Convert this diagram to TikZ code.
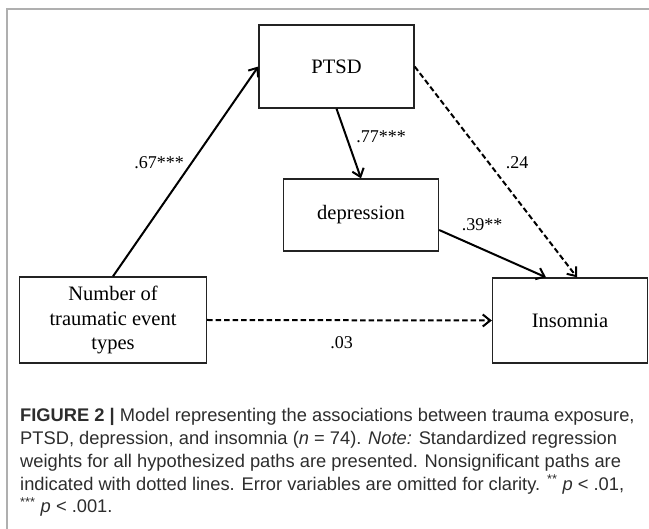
\documentclass[tikz,border=0pt]{standalone}
\usepackage{fontspec}
\setmainfont{Liberation Serif}
\newfontfamily\capfont{Liberation Sans}
\usepackage{xcolor}
\usepackage{tikz}
\usetikzlibrary{arrows.meta, positioning, calc}
\definecolor{framegray}{RGB}{175, 175, 175}
\definecolor{boxborder}{RGB}{35, 35, 35}
\definecolor{captext}{RGB}{45, 45, 45}

\begin{document}
\begin{tikzpicture}[
    x=1pt, y=-1pt,
    >={Straight Barb[length=7.5pt, width=12pt]},
    pathsolid/.style={->, line width=2pt, draw=black},
    pathdash/.style={->, line width=2pt, draw=black, dash pattern=on 5.5pt off 3pt},
    varbox/.style={rectangle, draw=boxborder, line width=1.3pt, fill=white,
                   minimum width=155pt, align=center, inner sep=0pt,
                   font=\fontsize{20.5}{24.5}\selectfont},
    weight/.style={font=\fontsize{18}{20}\selectfont, inner sep=1pt},
]
\useasboundingbox (0,0) rectangle (649,529);

% ============================================================
% FRAME
% ============================================================
\draw[framegray, line width=1.4pt] (649,9) -- (7,9) -- (7,529);

% ============================================================
% NODES
% ============================================================
\node[varbox, minimum height=83pt] (ptsd) at (336.5, 66.5) {PTSD};
\node[varbox, minimum height=72pt] (depr) at (361, 215) {depression};
\node[varbox, minimum width=187pt, minimum height=86pt] (events) at (113, 320)
    {Number of\\traumatic event\\types};
\node[varbox, minimum height=85pt] (insom) at (570, 320.5) {Insomnia};

% ============================================================
% PATHS
% ============================================================
\draw[pathsolid] (events.north) -- (ptsd.west);
\draw[pathsolid] (ptsd.south) -- (depr.north);
\draw[pathsolid] ([yshift=-15pt]depr.east) -- ([xshift=-24pt]insom.north);
\draw[pathdash] (ptsd.east) -- ([xshift=7pt]insom.north);
\draw[pathdash] (events.east) -- (insom.west);

% Path weights
\node[weight] (w67) at (159, 163) {.67***};
\node[weight] (w77) at (381, 137) {.77***};
\node[weight] (w24) at (517, 163) {.24};
\node[weight] (w39) at (482, 225) {.39**};
\node[weight] (w03) at (341.5, 343) {.03};

% ============================================================
% CAPTION (base = last line)
% ============================================================
\node[anchor=base west, align=left, inner sep=0pt, text=captext,
      font=\capfont\fontsize{18.3}{22.75}\selectfont] (caption) at (20, 513)
    {\textbf{FIGURE 2 |} Model representing the associations between trauma exposure,\\
     PTSD, depression, and insomnia (\textit{n} = 74). \textit{Note:} Standardized regression\\
     weights for all hypothesized paths are presented. Nonsignificant paths are\\
     indicated with dotted lines. Error variables are omitted for clarity. \textsuperscript{**} \textit{p} < .01,\\
     \textsuperscript{***} \textit{p} < .001.};

\end{tikzpicture}
\end{document}
